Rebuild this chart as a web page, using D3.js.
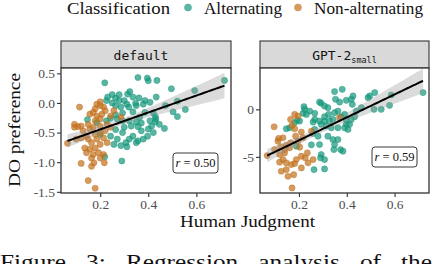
<!DOCTYPE html>
<html><head><meta charset="utf-8">
<script src="https://cdn.jsdelivr.net/npm/d3@7"></script>
<style>
html,body{margin:0;padding:0;background:#fff;}
svg{display:block;}
</style></head>
<body>
<svg id="chart" width="432" height="264"></svg>
<script>
// ---- data ----
const categories = ["Alternating", "Non-alternating"];
const legendTitle = "Classification";
const panelNames = ["default", "GPT-2"];
const rLabels = ["0.50", "0.59"];
const xTicks = [0.2, 0.4, 0.6];
const yTicksDefault = [0.5, 0.0, -0.5, -1.0, -1.5];
const yTicksGPT2 = [0, -5];
const xTitle = "Human Judgment";
const yTitle = "DO preference";
const caption = "Figure 3: Regression analysis of the";

const defaultAlt = [[0.219,0.34],[0.357,0.43],[0.396,0.42],[0.40,0.375],[0.436,0.38],[0.496,0.24],[0.593,0.21],[0.717,0.38],[0.323,0.19],[0.314,0.15],[0.279,0.14],[0.25,0.14],[0.231,0.10],[0.264,0.08],[0.226,0.04],[0.433,0.10],[0.361,0.085],[0.386,0.04],[0.407,0.01],[0.521,0.03],[0.347,-0.005],[0.311,-0.02],[0.319,-0.07],[0.286,-0.07],[0.264,-0.045],[0.554,-0.11],[0.503,-0.15],[0.521,-0.23],[0.386,-0.16],[0.421,-0.17],[0.431,-0.27],[0.429,-0.23],[0.407,-0.30],[0.364,-0.24],[0.35,-0.32],[0.321,-0.30],[0.293,-0.30],[0.271,-0.27],[0.243,-0.26],[0.186,-0.33],[0.147,-0.28],[0.226,-0.30],[0.30,-0.41],[0.264,-0.45],[0.293,-0.50],[0.329,-0.39],[0.357,-0.40],[0.371,-0.47],[0.40,-0.44],[0.421,-0.50],[0.467,-0.43],[0.397,-0.56],[0.379,-0.61],[0.357,-0.64],[0.336,-0.56],[0.321,-0.61],[0.307,-0.67],[0.311,-0.74],[0.286,-0.72],[0.257,-0.70],[0.271,-0.61],[0.243,-0.56],[0.20,-0.53],[0.219,-0.91],[0.29,-0.98],[0.35,-0.67],[0.371,-0.34],[0.264,-0.20],[0.293,-0.17],[0.336,-0.15],[0.35,-0.045],[0.30,0.04],[0.336,0.10],[0.379,-0.02],[0.471,-0.045],[0.429,-0.32],[0.446,-0.36],[0.25,0.0],[0.279,0.04],[0.414,-0.39]];
const defaultNon = [[0.114,-0.07],[0.20,0.02],[0.186,-0.02],[0.179,-0.10],[0.214,-0.07],[0.221,-0.13],[0.207,-0.19],[0.171,-0.16],[0.157,-0.19],[0.186,-0.22],[0.20,-0.27],[0.179,-0.30],[0.15,-0.36],[0.093,-0.36],[0.107,-0.40],[0.121,-0.39],[0.093,-0.41],[0.129,-0.47],[0.157,-0.44],[0.171,-0.41],[0.20,-0.39],[0.229,-0.36],[0.243,-0.41],[0.221,-0.47],[0.20,-0.50],[0.179,-0.53],[0.143,-0.56],[0.121,-0.59],[0.10,-0.61],[0.064,-0.68],[0.15,-0.61],[0.164,-0.67],[0.186,-0.61],[0.214,-0.59],[0.229,-0.67],[0.20,-0.70],[0.179,-0.76],[0.157,-0.78],[0.136,-0.76],[0.143,-0.84],[0.171,-0.87],[0.193,-0.84],[0.214,-0.87],[0.20,-0.93],[0.164,-0.93],[0.174,-1.01],[0.164,-1.07],[0.121,-1.02],[0.217,-1.01],[0.15,-1.31],[0.179,-1.44],[0.257,-0.13],[0.286,-0.24],[0.2,-0.045],[0.243,-0.22]];
const gpt2Alt = [[0.349,1.87],[0.381,2.11],[0.353,1.06],[0.37,0.77],[0.398,0.95],[0.419,1.06],[0.423,0.53],[0.426,1.41],[0.489,1.23],[0.496,1.41],[0.517,1.76],[0.461,0.18],[0.514,0],[0.544,0],[0.579,0.42],[0.586,1.51],[0.719,1.76],[0.286,0.77],[0.293,0.63],[0.221,0.28],[0.224,0],[0.245,-0.18],[0.266,-0.42],[0.231,-0.53],[0.217,-0.42],[0.193,-1.13],[0.203,-1.23],[0.266,-1.06],[0.286,-1.23],[0.259,-1.34],[0.307,-0.77],[0.307,-1.23],[0.328,-1.23],[0.342,-1.06],[0.324,-0.53],[0.349,-0.35],[0.377,-0.77],[0.398,-1.13],[0.419,-1.06],[0.433,-0.77],[0.44,-0.18],[0.398,-1.58],[0.405,-2.11],[0.391,-1.94],[0.363,-1.94],[0.335,-1.94],[0.314,-1.76],[0.293,-1.58],[0.266,-2.11],[0.259,-2.54],[0.28,-2.82],[0.286,-3.7],[0.252,-3.73],[0.321,-2.82],[0.342,-3.17],[0.363,-3.17],[0.349,-3.7],[0.346,-4.23],[0.374,-4.23],[0.384,-4.4],[0.293,-4.75],[0.29,-5.1],[0.307,-5.28],[0.307,-6.27],[0.263,-6.34],[0.189,-3.87],[0.147,-2.04],[0.161,-1.94],[0.182,-1.41],[0.363,-0.18],[0.391,-0.53],[0.412,-1.58],[0.307,0.35],[0.321,0.18]];
const gpt2Non = [[0.096,-1.83],[0.112,-3.35],[0.115,-3.06],[0.133,-2.99],[0.124,-3.94],[0.14,-4.23],[0.161,-4.05],[0.182,-0.53],[0.165,-1.06],[0.171,-1.69],[0.182,-2.04],[0.186,-2.82],[0.21,-2.39],[0.217,-2.99],[0.196,-3.35],[0.165,-3.52],[0.147,-3.8],[0.14,-4.58],[0.119,-4.75],[0.133,-5.28],[0.119,-5.56],[0.147,-5.63],[0.168,-5.81],[0.182,-5.7],[0.189,-5.28],[0.21,-4.93],[0.226,-5.1],[0.238,-5.63],[0.259,-5.28],[0.235,-4.58],[0.21,-6.16],[0.147,-6.34],[0.154,-7.04],[0.178,-6.87],[0.171,-8.27],[0.126,-6.51],[0.067,-4.86],[0.098,-4.23],[0.203,-3.98],[0.37,-0.88],[0.252,-2.29],[0.196,-0.7]];

// ---- styling ----
const colors = {"Alternating": "#14977a", "Non-alternating": "#c2711d"};
const serif = "'Liberation Serif', 'DejaVu Serif', serif";
const mono = "'DejaVu Sans Mono', 'Liberation Mono', monospace";
const svg = d3.select("#chart");
const hyphenate = f => (v => f(v).replace("\u2212", "-"));

const panels = [
  {name: panelNames[0], alt: defaultAlt, non: defaultNon, x0: 61, x1: 231, ydom: [-1.52, 0.59], yticks: yTicksDefault, fmt: hyphenate(d3.format(".1f")), r: rLabels[0], box: {right: 13, bottom: 20}, labelShift: -5},
  {name: panelNames[1], alt: gpt2Alt, non: gpt2Non, x0: 260, x1: 429, ydom: [-8.8, 4.35], yticks: yTicksGPT2, fmt: hyphenate(d3.format("d")), r: rLabels[1], box: {right: 12, bottom: 26}, labelShift: 0}
];
const stripTop = 41, panelTop = 68, panelBottom = 193;

function regression(pts) {
  const n = pts.length;
  const mx = d3.mean(pts, d => d[0]), my = d3.mean(pts, d => d[1]);
  let sxx = 0, sxy = 0;
  pts.forEach(d => { sxx += (d[0]-mx)**2; sxy += (d[0]-mx)*(d[1]-my); });
  const b = sxy / sxx, a = my - b*mx;
  let sse = 0; pts.forEach(d => { sse += (d[1] - a - b*d[0])**2; });
  const s = Math.sqrt(sse/(n-2));
  return {a, b, se: x => s*Math.sqrt(1/n + (x-mx)**2/sxx), t: 1.97};
}

panels.forEach(p => {
  const x = d3.scaleLinear().domain([0.037, 0.744]).range([p.x0, p.x1]);
  const y = d3.scaleLinear().domain(p.ydom).range([panelBottom, panelTop]);
  const g = svg.append("g");

  // strip
  g.append("rect").attr("x", p.x0).attr("y", stripTop).attr("width", p.x1 - p.x0).attr("height", panelTop - stripTop)
    .attr("fill", "#d9d9d9").attr("stroke", "#333").attr("stroke-width", 1.1);
  const st = g.append("text").attr("x", (p.x0 + p.x1)/2 + p.labelShift).attr("y", 60).attr("text-anchor", "middle")
    .attr("font-family", mono).attr("font-size", 13).attr("fill", "#111");
  if (p.name === "GPT-2") {
    st.append("tspan").text("GPT-2");
    st.append("tspan").attr("font-size", 8.5).attr("dy", 3).text("small");
  } else st.text(p.name);

  // panel background
  g.append("rect").attr("x", p.x0).attr("y", panelTop).attr("width", p.x1 - p.x0).attr("height", panelBottom - panelTop)
    .attr("fill", "#fff");

  // points
  const pts = p.alt.map(d => ({x: d[0], y: d[1], c: categories[0]}))
    .concat(p.non.map(d => ({x: d[0], y: d[1], c: categories[1]})));
  g.append("g").selectAll("circle").data(pts).join("circle")
    .attr("cx", d => x(d.x)).attr("cy", d => y(d.y)).attr("r", 3.1)
    .attr("fill", d => colors[d.c]).attr("fill-opacity", 0.7)
    .attr("stroke", d => colors[d.c]).attr("stroke-opacity", 0.8).attr("stroke-width", 0.5);

  // regression + band
  const all = p.alt.concat(p.non);
  const reg = regression(all);
  const xmin = d3.min(all, d => d[0]), xmax = d3.max(all, d => d[0]);
  const xs = d3.range(0, 81).map(i => xmin + i/80*(xmax - xmin));
  g.append("path").datum(xs)
    .attr("d", d3.area().x(v => x(v)).y0(v => y(reg.a + reg.b*v - reg.t*reg.se(v))).y1(v => y(reg.a + reg.b*v + reg.t*reg.se(v))))
    .attr("fill", "#999").attr("fill-opacity", 0.35);
  g.append("path").datum(xs)
    .attr("d", d3.line().x(v => x(v)).y(v => y(reg.a + reg.b*v)))
    .attr("fill", "none").attr("stroke", "#000").attr("stroke-width", 2);

  // r label
  const bw = 45, bh = 20;
  const bx = p.x1 - p.box.right - bw, by = panelBottom - p.box.bottom - bh;
  g.append("rect").attr("x", bx).attr("y", by).attr("width", bw).attr("height", bh).attr("rx", 3)
    .attr("fill", "#fff").attr("stroke", "#222").attr("stroke-width", 0.9);
  const rt = g.append("text").attr("x", bx + bw/2).attr("y", by + 14).attr("text-anchor", "middle")
    .attr("font-family", serif).attr("font-size", 12.5).attr("fill", "#111");
  rt.append("tspan").attr("font-style", "italic").text("r");
  rt.append("tspan").text(" = " + p.r);

  // border
  g.append("rect").attr("x", p.x0).attr("y", panelTop).attr("width", p.x1 - p.x0).attr("height", panelBottom - panelTop)
    .attr("fill", "none").attr("stroke", "#333").attr("stroke-width", 1.3);

  // axes
  const ax = g.append("g").attr("transform", `translate(0,${panelBottom})`)
    .call(d3.axisBottom(x).tickValues(xTicks).tickSize(4).tickPadding(2).tickFormat(d3.format(".1f")));
  const ay = g.append("g").attr("transform", `translate(${p.x0},0)`)
    .call(d3.axisLeft(y).tickValues(p.yticks).tickSize(4).tickPadding(2).tickFormat(p.fmt));
  [ax, ay].forEach(a => {
    a.select(".domain").remove();
    a.selectAll(".tick line").attr("stroke", "#333").attr("stroke-width", 1.1);
    a.selectAll(".tick text").attr("font-family", serif).attr("font-size", 13.5).attr("fill", "#4d4d4d");
  });
});

// axis titles
svg.append("text").attr("x", 247.5).attr("y", 227).attr("text-anchor", "middle")
  .attr("font-family", serif).attr("font-size", 17).attr("fill", "#111")
  .attr("textLength", 135).attr("lengthAdjust", "spacingAndGlyphs").text(xTitle);
svg.append("text").attr("transform", "translate(20,130) rotate(-90)").attr("text-anchor", "middle")
  .attr("font-family", serif).attr("font-size", 17.5).attr("fill", "#111")
  .attr("textLength", 114).attr("lengthAdjust", "spacingAndGlyphs").text(yTitle);

// legend
const leg = svg.append("g");
leg.append("text").attr("x", 67).attr("y", 13.5).attr("font-family", serif).attr("font-size", 17).attr("fill", "#111")
  .attr("textLength", 103).attr("lengthAdjust", "spacingAndGlyphs").text(legendTitle);
const legX = [188, 298];
const legW = [78, 109];
categories.forEach((c, i) => {
  leg.append("circle").attr("cx", legX[i]).attr("cy", 7.5).attr("r", 3.8).attr("fill", colors[c]).attr("fill-opacity", 0.7);
  leg.append("text").attr("x", legX[i] + 16).attr("y", 13.5).attr("font-family", serif).attr("font-size", 17).attr("fill", "#111")
    .attr("textLength", legW[i]).attr("lengthAdjust", "spacingAndGlyphs").text(c);
});

// caption (cut off at the bottom, as in the source)
svg.append("text").attr("x", 0).attr("y", 269).attr("font-family", serif).attr("font-size", 22)
  .attr("fill", "#111").attr("word-spacing", 12)
  .attr("textLength", 432).attr("lengthAdjust", "spacingAndGlyphs").text(caption);
</script>
</body></html>
